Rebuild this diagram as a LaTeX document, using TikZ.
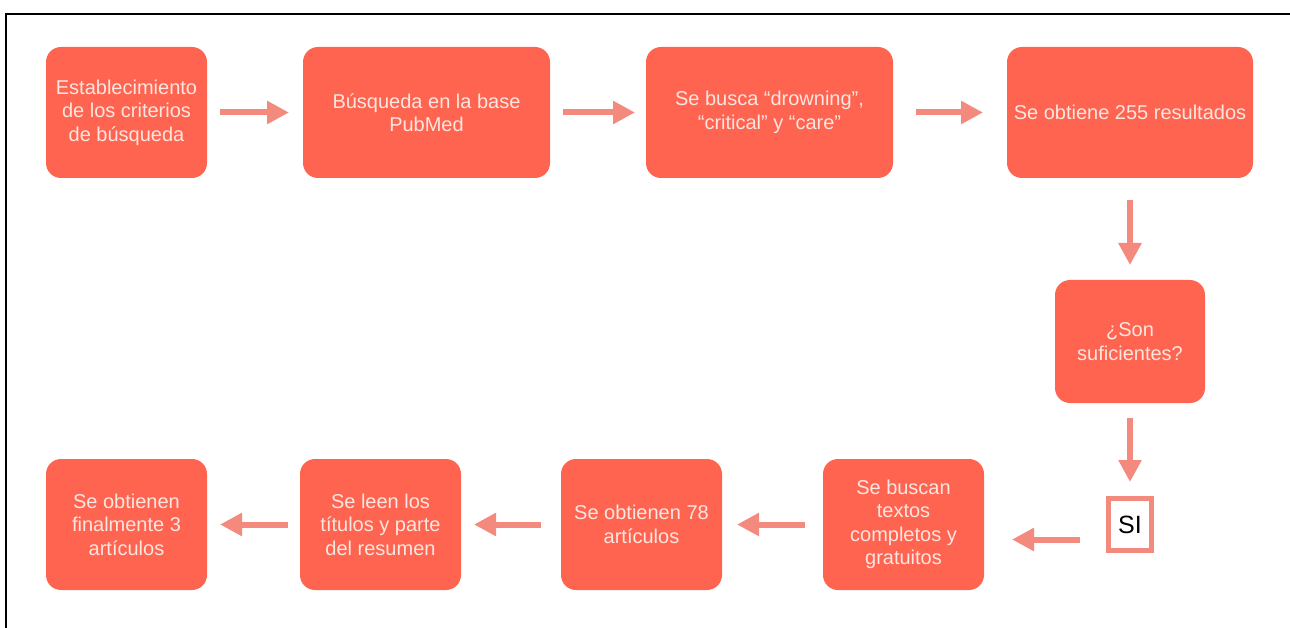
\documentclass[tikz,border=0pt]{standalone}
\usepackage{fontspec}
\setmainfont{Liberation Sans}
\usetikzlibrary{arrows.meta, positioning}
\definecolor{naranja}{HTML}{FF6450}
\definecolor{salmon}{HTML}{F48A7E}
\definecolor{rosado}{HTML}{FCE6E0}

\begin{document}
\begin{tikzpicture}[x=1pt, y=-1pt,
  paso/.style={rectangle, rounded corners=15pt, fill=naranja, text=rosado, minimum width=161pt, minimum height=131pt, align=center, inner sep=0pt, outer sep=0pt, font=\fontsize{20}{23.5}\selectfont},
  flecha/.style={-{Triangle[length=22pt, width=22pt]}, line width=6pt, draw=salmon}]

	\useasboundingbox (0,0) rectangle (1290,628);
	\draw[line width=2pt] (1290,14) -- (6,14) -- (6,628);

	\node[paso] (1) at (126.5,112.5) {Establecimiento\\de los criterios\\de búsqueda};
	\node[paso, minimum width=247pt] (2) [right=96pt of 1] {Búsqueda en la base\\PubMed};
	\node[paso, minimum width=247pt] (3) [right=96pt of 2] {Se busca “drowning”,\\“critical” y “care”};
	\node[paso, minimum width=246pt] (4) [right=114pt of 3] {Se obtiene 255 resultados};
	\node[paso, minimum width=150pt, minimum height=123pt] (5) [below=102pt of 4] {¿Son\\suficientes?};
	\node[draw=salmon, line width=5pt, fill=white, minimum width=43pt, minimum height=52pt, inner sep=0pt, outer sep=0pt, font=\fontsize{25}{30}\selectfont] (6) [below=95.5pt of 5] {SI};
	\node[paso] (7) [left=124.5pt of 6] {Se buscan\\textos\\completos y\\gratuitos};
	\node[paso] (8) [left=101pt of 7] {Se obtienen 78\\artículos};
	\node[paso] (9) [left=100pt of 8] {Se leen los\\títulos y parte\\del resumen};
	\node[paso] (10) [left=93pt of 9] {Se obtienen\\finalmente 3\\artículos};

	\path
	(1) edge[flecha, shorten <=13pt, shorten >=14pt] (2)
	(2) edge[flecha, shorten <=13pt, shorten >=11pt] (3)
	(3) edge[flecha, shorten <=23pt, shorten >=24pt] (4)
	(4) edge[flecha, shorten <=22pt, shorten >=15pt] (5)
	(5) edge[flecha, shorten <=15pt, shorten >=16.5pt] (6)
	([yshift=-15pt]6.west) edge[flecha, shorten <=28.5pt, shorten >=28pt] ([yshift=-15pt]7.east)
	(7) edge[flecha, shorten <=18pt, shorten >=15pt] (8)
	(8) edge[flecha, shorten <=20pt, shorten >=13pt] (9)
	(9) edge[flecha, shorten <=12pt, shorten >=13pt] (10);

\end{tikzpicture}
\end{document}
